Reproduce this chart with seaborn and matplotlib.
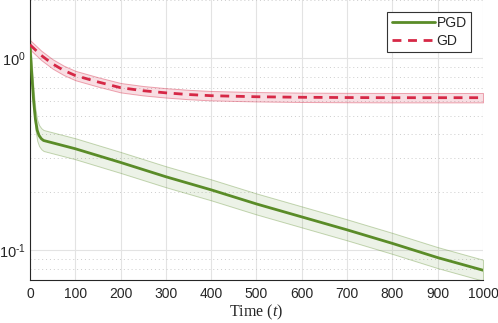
import matplotlib
matplotlib.use("Agg")
import matplotlib.pyplot as plt
import seaborn as sns
import pandas as pd
from matplotlib.ticker import FixedLocator, NullFormatter

# values (log-scale y)
pgd_t = [0, 4, 8, 12, 16, 20, 25, 30, 100, 200, 300, 400, 500, 600, 700, 800, 900, 1000]
pgd_val = [1.15, 0.82, 0.60, 0.48, 0.42, 0.395, 0.38, 0.372, 0.337, 0.286, 0.241,
           0.206, 0.174, 0.149, 0.1276, 0.1085, 0.0915, 0.0787]
gd_t = [0, 25, 50, 75, 100, 150, 200, 250, 300, 350, 400, 500, 600, 700, 800, 900, 1000]
gd_val = [1.17, 1.03, 0.93, 0.86, 0.81, 0.75, 0.70, 0.675, 0.658, 0.645, 0.636,
          0.628, 0.624, 0.622, 0.621, 0.621, 0.621]
# multiplicative half-width of the shaded bands
pgd_spread = 1.134
gd_spread = 1.058

green = "#5a8c28"
red = "#d62846"

df = pd.concat([
    pd.DataFrame({"t": pgd_t, "val": pgd_val, "method": "PGD"}),
    pd.DataFrame({"t": gd_t, "val": gd_val, "method": "GD"}),
])

sns.set_style("white")
plt.rcParams["font.family"] = ["Liberation Sans", "DejaVu Sans"]
plt.rcParams["mathtext.fontset"] = "custom"
plt.rcParams["mathtext.rm"] = "Liberation Sans"
plt.rcParams["mathtext.it"] = "Liberation Serif:italic"
plt.rcParams["mathtext.default"] = "regular"

fig = plt.figure(figsize=(4.98, 3.23), dpi=100)
ax = fig.add_axes([0.0602, 0.1331, 0.9097, 0.8669])

# shaded bands
ax.fill_between(pgd_t, [v / pgd_spread for v in pgd_val], [v * pgd_spread for v in pgd_val],
                facecolor=(*matplotlib.colors.to_rgb(green), 0.11),
                edgecolor=(*matplotlib.colors.to_rgb(green), 0.35), lw=0.7, zorder=2)
ax.fill_between(gd_t, [v / gd_spread for v in gd_val], [v * gd_spread for v in gd_val],
                facecolor=(*matplotlib.colors.to_rgb(red), 0.15),
                edgecolor=(*matplotlib.colors.to_rgb(red), 0.4), lw=0.7, zorder=2)

sns.lineplot(data=df, x="t", y="val", hue="method", style="method",
             hue_order=["PGD", "GD"], style_order=["PGD", "GD"],
             palette={"PGD": green, "GD": red},
             dashes={"PGD": "", "GD": (3.2, 2.4)},
             lw=2, ax=ax, legend=True, zorder=3)

ax.set_yscale("log")
ax.set_xlim(0, 1000)
ax.set_ylim(0.07, 2.0)

ax.set_xticks(range(0, 1001, 100))
ax.yaxis.set_major_locator(FixedLocator([0.1, 1.0]))
ax.set_yticklabels([r"$10^{\text{-}1}$", "$10^{0}$"])
ax.yaxis.set_minor_locator(FixedLocator([0.08, 0.09, 0.2, 0.3, 0.4, 0.5, 0.6, 0.7, 0.8, 0.9, 2.0]))
ax.yaxis.set_minor_formatter(NullFormatter())

ax.tick_params(axis="x", which="major", direction="in", length=3.5, width=0.7,
               colors="#262626", labelsize=10, pad=5)
ax.tick_params(axis="y", which="major", direction="in", length=3.5, width=0.7,
               colors="#262626", labelsize=10.5, pad=3)
ax.tick_params(axis="y", which="minor", direction="in", length=2, width=0.6, colors="#262626")

ax.grid(True, which="major", color="#e3e3e3", lw=0.8, ls="-", zorder=0)
ax.grid(True, which="minor", axis="y", color="#cccccc", lw=0.7, ls=(0, (1, 3)), zorder=0)
ax.set_axisbelow(True)

for side in ["top", "right"]:
    ax.spines[side].set_visible(False)
for side in ["left", "bottom"]:
    ax.spines[side].set_color("#262626")
    ax.spines[side].set_linewidth(0.8)

ax.set_xlabel(r"Time ($\mathit{t}$)", family="Liberation Serif", fontsize=11.5, labelpad=1)
ax.set_ylabel("")

handles, labels = ax.get_legend_handles_labels()
leg = ax.legend(handles, labels, loc="upper right", bbox_to_anchor=(0.9735, 0.958),
                fancybox=False, edgecolor="#333333", framealpha=1, fontsize=10,
                handlelength=3.1, handletextpad=0.15, labelspacing=0.3,
                borderpad=0.3, borderaxespad=0)
leg.get_frame().set_linewidth(0.8)

plt.savefig("out.png", dpi=100)
